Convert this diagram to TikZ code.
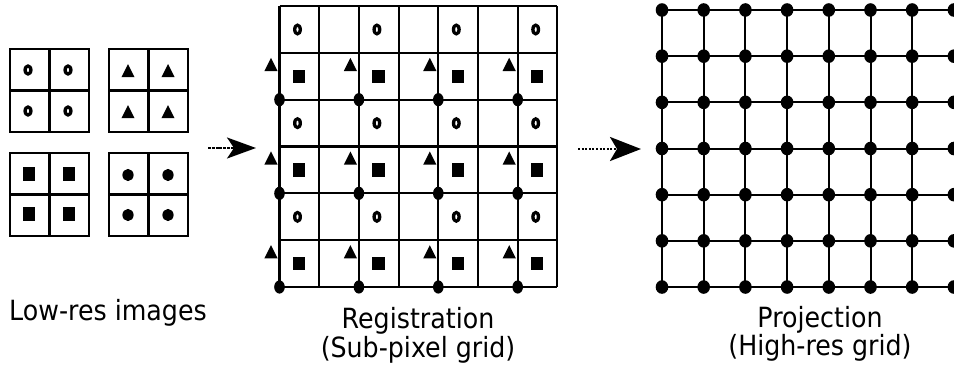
\documentclass[tikz,border=0pt]{standalone}
\usepackage{fontspec}
\usepackage{graphicx}
\setmainfont{DejaVu Sans}
\usetikzlibrary{arrows.meta}
\begin{document}
\begin{tikzpicture}[x=1pt,y=-1pt,
  gridline/.style={line width=2.1pt},
  fineline/.style={line width=2pt},
  ringsym/.style={fill=black, even odd rule},
  lbl/.style={anchor=base, inner sep=0pt, font=\fontsize{25.3}{29}\selectfont},
  bigarrow/.style={line width=2.4pt, dash pattern=on 3pt off 0.8pt, -{Stealth[length=29pt,width=21pt,inset=7pt]}},
  dotarrow/.style={line width=2.8pt, dash pattern=on 2pt off 1.6pt, -{Stealth[length=31pt,width=24pt,inset=7pt]}}
]
\useasboundingbox (0,0) rectangle (954,370);
\clip (0,0) rectangle (954,370);

% ---------- low-res images ----------
\foreach \gx/\gy in {10/49, 109/49, 10/153, 109/153}{
  \draw[gridline] (\gx,\gy) rectangle ++(79,83);
  \draw[gridline] (\gx+39.5,\gy) -- ++(0,83);
  \draw[gridline] (\gx,\gy+41.5) -- ++(79,0);
}
% rings
\foreach \cx/\cy in {28/70, 68/70, 28/111, 68/111}
  \path[ringsym] (\cx,\cy) ellipse[x radius=4.6pt, y radius=5.8pt]
                 (\cx,\cy) ellipse[x radius=1.2pt, y radius=2.3pt];
% triangles
\foreach \cx/\cy in {128/71, 168/71, 128/112, 168/112}
  \fill (\cx,\cy) ++(0,-7) -- ++(6.6,13.2) -- ++(-13.2,0) -- cycle;
% squares
\foreach \cx/\cy in {29/174, 69/174, 29/214, 69/214}
  \fill (\cx-6.2,\cy-6.7) rectangle ++(12.4,13.4);
% dots
\foreach \cx/\cy in {128/175, 168/175, 128/215, 168/215}
  \fill (\cx,\cy) ellipse[x radius=5.6pt, y radius=6.1pt];

% ---------- registration grid ----------
\foreach \k in {0,...,7}
  \draw[gridline] (279.5+\k*39.7,6) -- (279.5+\k*39.7,287);
\foreach \k in {0,...,6}
  \draw[gridline] (279.5,6+\k*46.83) -- (557.4,6+\k*46.83);
\foreach \c in {0,2,4,6}{
  \foreach \r in {0,2,4}
    \path[ringsym] (279.5+\c*39.7+18,6+\r*46.83+23.5) ellipse[x radius=4.5pt, y radius=6.2pt]
                   (279.5+\c*39.7+18,6+\r*46.83+23.5) ellipse[x radius=1.1pt, y radius=2.7pt];
  \foreach \r in {1,3,5}{
    \fill (279.5+\c*39.7+19.5-6.2,6+\r*46.83+23.5-6.7) rectangle ++(12.4,13.4);
    \fill (279.5+\c*39.7-8.5,6+\r*46.83+12) ++(0,-7) -- ++(6.6,13.2) -- ++(-13.2,0) -- cycle;
  }
  \foreach \r in {2,4,6}
    \fill (279.5+\c*39.7,6+\r*46.83) ellipse[x radius=5.3pt, y radius=6.6pt];
}

% ---------- high-res grid ----------
\foreach \k in {0,...,6}
  \draw[fineline] (662+\k*41.7,10) -- (662+\k*41.7,287);
\foreach \k in {0,...,6}
  \draw[fineline] (662,10+\k*46.17) -- (960,10+\k*46.17);
\foreach \i in {0,...,7}
  \foreach \j in {0,...,6}
    \fill (662+\i*41.7,10+\j*46.17) ellipse[x radius=6.3pt, y radius=6.8pt];

% ---------- arrows ----------
\coordinate (a1s) at (208,148);
\coordinate (a1e) at (256,148);
\draw[bigarrow] (a1s) -- (a1e);
\coordinate (a2s) at (578,149);
\coordinate (a2e) at (641,149);
\draw[dotarrow] (a2s) -- (a2e);

% ---------- labels ----------
\node[lbl] (lowres) at (108,320) {\scalebox{1}[1.1]{Low-res images}};
\node[lbl] (reg) at (418,328) {\scalebox{1}[1.1]{Registration}};
\node[lbl] (regsub) at (418,357) {\scalebox{1}[1.1]{(Sub-pixel grid)}};
\node[lbl] (proj) at (820,327) {\scalebox{1}[1.1]{Projection}};
\node[lbl] (projsub) at (820,355) {\scalebox{1}[1.1]{(High-res grid)}};
\end{tikzpicture}
\end{document}
